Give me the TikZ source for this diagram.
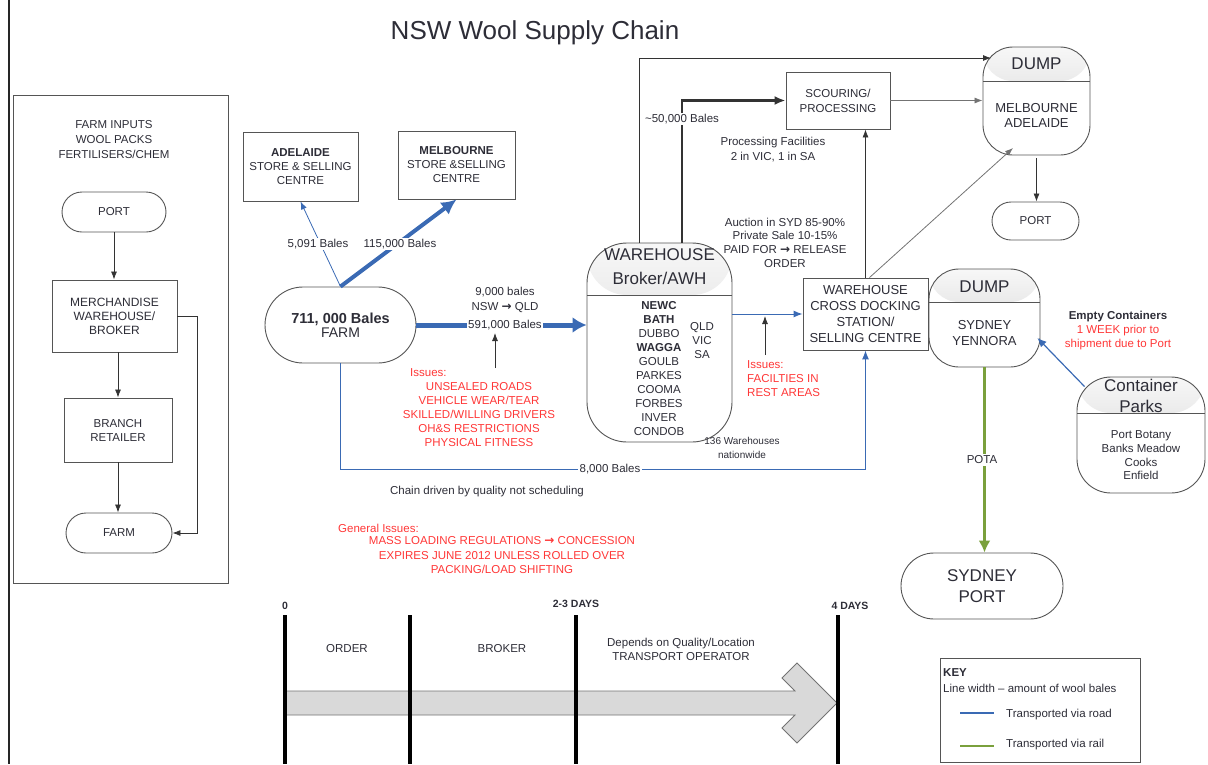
\documentclass[tikz,border=0pt]{standalone}
\usepackage{fontspec}
\setmainfont{Liberation Sans}
\newfontfamily\arrowfont{DejaVu Sans}
\newcommand\rarrow{{\arrowfont\bfseries\fontsize{12}{12}\selectfont →}}
\usetikzlibrary{arrows.meta,calc}
\definecolor{rblue}{RGB}{58,106,180}
\definecolor{rgreen}{RGB}{122,160,60}
\definecolor{rred}{RGB}{255,55,55}
\definecolor{txt}{RGB}{45,45,55}
\definecolor{edge}{RGB}{85,85,85}
\tikzset{
  every node/.style={font=\fontsize{11.5}{14}\selectfont, text=txt, inner sep=0pt},
  box/.style={draw=edge, line width=0.9pt, fill=white, align=center},
  stad/.style={box, rounded corners=#1},
  hdr/.style 2 args={draw=edge, line width=0.9pt, fill=white, rounded corners=#1,
    path picture={\shade[top color=gray!6, bottom color=gray!38]
        (path picture bounding box.north west) rectangle ([yshift=-#2]path picture bounding box.north east);
      \draw[edge, line width=0.9pt] ([yshift=-#2]path picture bounding box.north west) -- ([yshift=-#2]path picture bounding box.north east);}},
  arr/.style={draw=black!80, line width=0.8pt, -{Latex[length=8pt,width=6pt]}},
  lab/.style={fill=white, inner sep=1.5pt},
  red/.style={text=rred},
  f13/.style={font=\fontsize{13}{16}\selectfont},
  f17/.style={font=\fontsize{17}{21}\selectfont},
  tday/.style={font=\bfseries\fontsize{10.5}{12}\selectfont},
  tbar/.style={line width=3.5pt, black}
}
\begin{document}
\begin{tikzpicture}[x=1pt,y=-1pt]
\useasboundingbox (0,0) rectangle (1208,764);
% page frame
\draw[line width=1.6pt, black!85] (9,0) -- (9,764);
% title
\node[font=\fontsize{26}{30}\selectfont] (title) at (535,33) {NSW Wool Supply Chain};

% ---------- left panel ----------
\node[draw=edge, line width=0.9pt, minimum width=215, minimum height=488] (lpanel) at (120.5,339) {};
\node[align=center, font=\fontsize{11.5}{15}\selectfont] (linputs) at (114,140) {FARM INPUTS\\WOOL PACKS\\FERTILISERS/CHEM};
\node[stad=20, minimum width=104, minimum height=40] (lport) at (114,212) {PORT};
\node[box, minimum width=125, minimum height=72, font=\fontsize{12}{14}\selectfont] (lmerch) at (114.5,316) {MERCHANDISE\\WAREHOUSE/\\BROKER};
\node[box, minimum width=108, minimum height=64] (lbranch) at (118,430) {BRANCH\\RETAILER};
\node[stad=20, minimum width=106, minimum height=40] (lfarm) at (119,533) {FARM};
\draw[arr] (lport.south) -- (lport.south |- lmerch.north);
\draw[arr] (lbranch.north |- lmerch.south) -- (lbranch.north);
\draw[arr] (lbranch.south) -- (lbranch.south |- lfarm.north);
\draw[arr] (lmerch.east) -- ++(20,0) |- (lfarm.east);

% ---------- stores ----------
\node[box, minimum width=115, minimum height=69] (adel) at (300.5,166.5) {\textbf{ADELAIDE}\\STORE \& SELLING\\CENTRE};
\node[box, minimum width=117, minimum height=68] (melb) at (456.5,165) {\textbf{MELBOURNE}\\STORE \&SELLING\\CENTRE};

% ---------- farm ----------
\node[stad=38, minimum width=151, minimum height=76] (farm) at (340.5,325) {\fontsize{14.5}{18}\selectfont\textbf{711, 000 Bales}\\\fontsize{14}{18}\selectfont FARM};

% ---------- warehouse ----------
\node[hdr={40}{52}, minimum width=145, minimum height=199] (wh) at (659.5,342.5) {};
\node[align=center, font=\fontsize{17}{24}\selectfont] (whh) at (659.5,267) {WAREHOUSE\\Broker/AWH};
\node[align=center] (whl) at (659,369) {\textbf{NEWC}\\\textbf{BATH}\\DUBBO\\\textbf{WAGGA}\\GOULB\\PARKES\\COOMA\\FORBES\\INVER\\CONDOB};
\node[align=center] (whr) at (702,340.5) {QLD\\VIC\\SA};

% ---------- scouring ----------
\node[box, minimum width=104, minimum height=57, font=\fontsize{11.5}{15}\selectfont] (scour) at (838,100.5) {SCOURING/\\PROCESSING};
\node[align=center, font=\fontsize{11.5}{15}\selectfont] (procf) at (773,149.5) {Processing Facilities\\2 in VIC, 1 in SA};

% ---------- cross docking ----------
\node[box, f13, minimum width=125, minimum height=72] (cd) at (865.5,314) {WAREHOUSE\\CROSS DOCKING\\STATION/\\SELLING CENTRE};
\node[align=center, font=\fontsize{11.5}{13.7}\selectfont] (auct) at (785,242.5) {Auction in SYD 85-90\%\\Private Sale 10-15\%\\PAID FOR \rarrow{} RELEASE\\ORDER};

% ---------- dump melbourne ----------
\node[hdr={30}{34}, minimum width=107, minimum height=108] (dumpM) at (1036.5,101) {};
\node[f17] (dumpMh) at (1036.5,64) {DUMP};
\node[align=center, font=\fontsize{13}{15}\selectfont] (dumpMt) at (1036.5,115.5) {MELBOURNE\\ADELAIDE};
\node[stad=19, minimum width=87, minimum height=38] (mport) at (1035.5,221) {PORT};

% ---------- dump sydney ----------
\node[hdr={30}{33}, minimum width=111, minimum height=98] (dumpS) at (984.5,318) {};
\node[f17] (dumpSh) at (984.5,287) {DUMP};
\node[align=center, f13] (dumpSt) at (984.5,333) {SYDNEY\\YENNORA};
\node[stad=33, minimum width=162, minimum height=66, f17] (sport) at (982,586) {SYDNEY\\PORT};

% ---------- container parks ----------
\node[hdr={34}{36}, minimum width=128, minimum height=116] (cpark) at (1141,435) {};
\node[align=center, f17] (cparkh) at (1141,395.5) {Container\\Parks};
\node[align=center, font=\fontsize{11.5}{13.7}\selectfont] (cparkt) at (1141,455.5) {Port Botany\\Banks Meadow\\Cooks\\Enfield};
\node[font=\bfseries\fontsize{11.5}{14}\selectfont] (empty) at (1118,317) {Empty Containers};
\node[align=center, red] (week) at (1118,338) {1 WEEK prior to\\shipment due to Port};

% ---------- connectors ----------
\coordinate (dmin1) at (991,58);
\coordinate (dmin3) at (1013,148);
\coordinate (iss1) at (495,368);
\coordinate (iss2) at (765,355);
\draw[rblue, line width=0.8pt, -{Latex[length=8pt,width=6pt]}] (farm.north) -- (adel.south);
\draw[rblue, line width=4pt, -{Latex[length=15pt,width=15pt]}] (farm.north) -- (melb.south);
\draw[rblue, line width=5pt, -{Latex[length=14pt,width=16pt]}] (farm.east) -- (farm.east -| wh.west);
\draw[rblue, line width=1pt, -{Latex[length=9pt,width=7pt]}] (farm.south) -- ++(0,106) -| (cd.south);
\draw[arr] (iss1) -- (495,333);
\draw[arr] ([xshift=-20.5]wh.north) |- (dmin1);
\draw[arr, line width=2.2pt, -{Latex[length=11pt,width=9pt]}] ([xshift=22.5]wh.north) |- (scour.west);
\draw[arr, draw=black!55] (scour.east) -- (scour.east -| dumpM.west);
\draw[arr] (cd.north) -- (cd.north |- scour.south);
\draw[arr, draw=black!55] ([xshift=4]cd.north) -- (dmin3);
\draw[rblue, line width=1pt, -{Latex[length=9pt,width=7pt]}] (wh.east |- cd.west) -- (cd.west);
\draw[arr] (iss2) -- ++(0,-39);
\draw[arr] ([yshift=-3]dumpM.south) -- (dumpM.south |- mport.north);
\draw[rgreen, line width=3.5pt, -{Latex[length=12pt,width=12pt]}] (dumpS.south) -- (dumpS.south |- sport.north);
\draw[rblue, line width=1.2pt, -{Latex[length=9pt,width=8pt]}] ([shift={(8,10)}]cpark.north west) -- ([shift={(-3,20)}]dumpS.east);

% ---------- labels ----------
\node[lab] (l5091) at (318,244) {5,091 Bales};
\node[lab] (l115) at (400,244) {115,000 Bales};
\node[lab] (l591) at (505,325) {591,000 Bales};
\node[align=center, font=\fontsize{11.5}{15}\selectfont] (l9000) at (505,299.5) {9,000 bales\\NSW \rarrow{} QLD};
\node[lab] (l8000) at (610,469) {8,000 Bales};
\node[lab] (l50k) at (682,119) {\textasciitilde50,000 Bales};
\node[lab] (pota) at (982,460) {POTA};
\node[align=center, font=\fontsize{10}{14}\selectfont] (w136) at (742,448) {136 Warehouses\\nationwide};
\node[anchor=west, red] (issA) at (410,373) {Issues:};
\node[align=center, red] (issB) at (479,415) {UNSEALED ROADS\\VEHICLE WEAR/TEAR\\SKILLED/WILLING DRIVERS\\OH\&S RESTRICTIONS\\PHYSICAL FITNESS};
\node[anchor=north west, align=left, red] (iss2t) at (747,360) {Issues:\\FACILTIES IN\\REST AREAS};
\node (chain) at (487,492) {Chain driven by quality not scheduling};
\node[anchor=west, red] (gen) at (338,528) {General Issues:};
\node[align=center, red, font=\fontsize{11.5}{14.5}\selectfont] (gen2) at (502,555.5) {MASS LOADING REGULATIONS \rarrow{} CONCESSION\\EXPIRES JUNE 2012 UNLESS ROLLED OVER\\PACKING/LOAD SHIFTING};

% ---------- timeline ----------
\draw[draw=black!55, fill=black!15, line width=0.8pt]
  (285,691) -- (795,691) -- (782,678) -- (797,663) -- (837,703) -- (797,743) -- (782,728) -- (795,715) -- (285,715) -- cycle;
\draw[tbar] (285,615) -- (285,764);
\draw[tbar] (410,615) -- (410,764);
\draw[tbar] (576,615) -- (576,764);
\draw[tbar] (838,615) -- (838,764);
\node[tday] (t0) at (285,606) {0};
\node[tday] (t23) at (576,604) {2-3 DAYS};
\node[tday] (t4) at (850,606) {4 DAYS};
\node (tord) at (347,649) {ORDER};
\node (tbrk) at (502,649) {BROKER};
\node[align=center] (tdep) at (681,649) {Depends on Quality/Location\\TRANSPORT OPERATOR};

% ---------- key ----------
\node[draw=edge, line width=0.8pt, minimum width=200, minimum height=104, anchor=north west] (key) at (940,658) {};
\node[anchor=west, font=\bfseries\fontsize{11.5}{14}\selectfont] (keyt) at (943,673) {KEY};
\node[anchor=west] (keyl) at (943,688) {Line width – amount of wool bales};
\coordinate (kb) at (960,713);
\coordinate (kg) at (960,746);
\draw[rblue, line width=1.3pt] (kb) -- ++(34,0);
\draw[rgreen, line width=1.3pt] (kg) -- ++(34,0);
\node[anchor=west] (kbt) at (1006,715) {Transported via road};
\node[anchor=west] (kgt) at (1006,745) {Transported via rail};
\end{tikzpicture}
\end{document}
